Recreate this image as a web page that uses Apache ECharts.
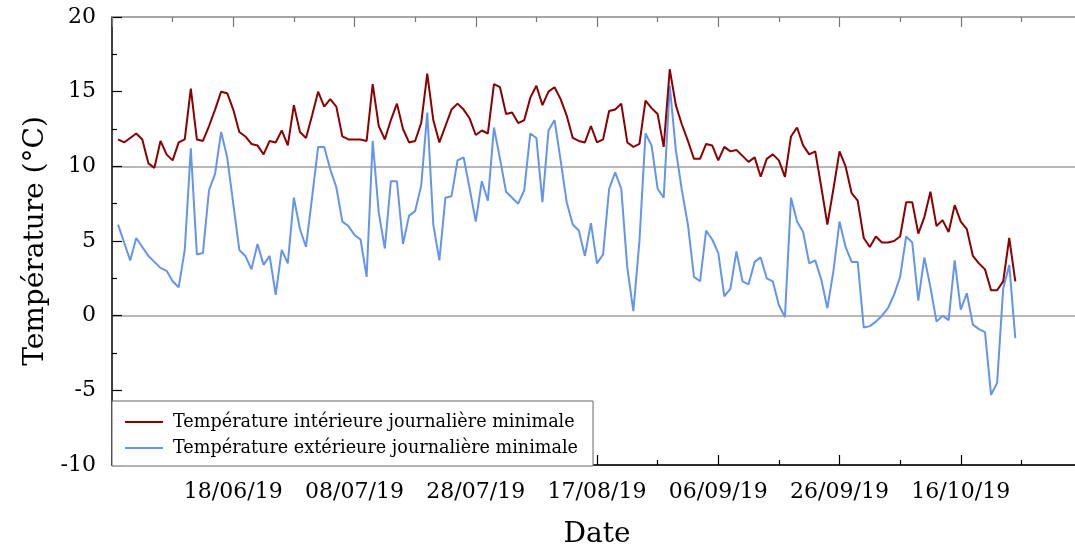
<!DOCTYPE html>
<html><head><meta charset="utf-8">
<script src="https://cdn.jsdelivr.net/npm/echarts@6/dist/echarts.min.js"></script>
<style>html,body{margin:0;padding:0;background:#fff}#c{width:1075px;height:548px}</style>
</head><body><div id="c"></div>
<script>
// first measured day and the date used as origin for the axis ticks
const startDate = '2019-05-30';
const tickOrigin = '2019-06-18';
const seriesNames = ['Température intérieure journalière minimale', 'Température extérieure journalière minimale'];
const axisNames = ['Date', 'Température (°C)'];

const interieur = [
  11.8, 11.6, 11.9, 12.2, 11.8, 10.2, 9.9, 11.7, 10.8, 10.4,
  11.6, 11.8, 15.2, 11.8, 11.7, 12.7, 13.8, 15.0, 14.9, 13.8,
  12.3, 12.0, 11.5, 11.4, 10.8, 11.7, 11.6, 12.4, 11.4, 14.1,
  12.3, 11.9, 13.4, 15.0, 14.0, 14.5, 14.0, 12.0, 11.8, 11.8,
  11.8, 11.7, 15.5, 12.7, 11.8, 13.1, 14.2, 12.5, 11.6, 11.7,
  12.9, 16.2, 13.1, 11.6, 12.7, 13.8, 14.2, 13.8, 13.2, 12.1,
  12.4, 12.2, 15.5, 15.3, 13.5, 13.6, 12.9, 13.1, 14.6, 15.4,
  14.1, 15.0, 15.3, 14.5, 13.4, 11.9, 11.7, 11.6, 12.7, 11.6,
  11.8, 13.7, 13.8, 14.2, 11.6, 11.3, 11.5, 14.4, 13.9, 13.5,
  11.3, 16.5, 14.1, 12.8, 11.7, 10.5, 10.5, 11.5, 11.4, 10.4,
  11.3, 11.0, 11.1, 10.7, 10.3, 10.6, 9.3, 10.5, 10.8, 10.4,
  9.3, 12.0, 12.6, 11.4, 10.8, 11.0, 8.6, 6.1, 8.5, 11.0,
  10.0, 8.2, 7.7, 5.2, 4.6, 5.3, 4.9, 4.9, 5.0, 5.3,
  7.6, 7.6, 5.5, 6.6, 8.3, 6.0, 6.4, 5.6, 7.4, 6.3,
  5.8, 4.0, 3.5, 3.1, 1.7, 1.7, 2.3, 5.2, 2.3
];
const exterieur = [
  6.1, 4.9, 3.7, 5.2, 4.6, 4.0, 3.6, 3.2, 3.0, 2.3,
  1.9, 4.4, 11.2, 4.1, 4.2, 8.4, 9.5, 12.3, 10.6, 7.5,
  4.4, 4.0, 3.1, 4.8, 3.4, 4.0, 1.4, 4.4, 3.5, 7.9,
  5.8, 4.6, 7.9, 11.3, 11.3, 9.8, 8.6, 6.3, 6.0, 5.4,
  5.1, 2.6, 11.7, 6.9, 4.5, 9.0, 9.0, 4.8, 6.7, 7.0,
  8.7, 13.6, 6.1, 3.7, 7.9, 8.0, 10.4, 10.6, 8.5, 6.3,
  9.0, 7.7, 12.6, 10.5, 8.3, 7.9, 7.5, 8.4, 12.2, 11.9,
  7.6, 12.4, 13.1, 10.4, 7.6, 6.1, 5.7, 4.0, 6.2, 3.5,
  4.1, 8.5, 9.6, 8.5, 3.2, 0.3, 5.0, 12.2, 11.4, 8.5,
  7.9, 15.4, 11.1, 8.4, 6.1, 2.6, 2.3, 5.7, 5.1, 4.2,
  1.3, 1.8, 4.3, 2.3, 2.1, 3.6, 3.9, 2.5, 2.3, 0.7,
  -0.1, 7.9, 6.3, 5.6, 3.5, 3.7, 2.4, 0.5, 3.0, 6.3,
  4.6, 3.6, 3.6, -0.8, -0.7, -0.4, 0.0, 0.5, 1.4, 2.6,
  5.3, 4.9, 1.0, 3.9, 1.9, -0.4, 0.0, -0.3, 3.7, 0.4,
  1.5, -0.6, -0.9, -1.1, -5.3, -4.5, 1.8, 3.4, -1.5
];

const DAY = 86400000;
const t0 = Date.parse(tickOrigin + 'T00:00:00Z');
const s0 = Date.parse(startDate + 'T00:00:00Z');
const off0 = Math.round((s0 - t0) / DAY);
const toPoints = arr => arr.map((v, i) => [off0 + i, v]);
const pad = n => (n < 10 ? '0' : '') + n;
function fmtDate(d) {
  const dt = new Date(t0 + d * DAY);
  return pad(dt.getUTCDate()) + '/' + pad(dt.getUTCMonth() + 1) + '/' + String(dt.getUTCFullYear()).slice(2);
}

const FONT = 'DejaVu Serif';
const RED = '#8b0000', BLUE = '#6495ed', GRID = '#a0a0a0';

const chart = echarts.init(document.getElementById('c'), null, { renderer: 'canvas' });
chart.setOption({
  animation: false,
  backgroundColor: '#fff',
  grid: { left: 112, width: 970, top: 17, height: 448, containLabel: false, outerBoundsMode: 'none' },
  legend: {
    orient: 'vertical', left: 112, top: 401,
    itemWidth: 38, itemHeight: 14, itemGap: 8,
    padding: [12, 15, 9, 12],
    borderColor: '#666', borderWidth: 1, backgroundColor: '#fff',
    itemStyle: { opacity: 0, borderWidth: 0 },
    lineStyle: { width: 2 },
    textStyle: { fontFamily: FONT, fontSize: 17.6, color: '#000', padding: [0, 0, 0, 5] },
    data: seriesNames
  },
  xAxis: [{
    type: 'value', position: 'bottom', min: -20, max: 140, interval: 20,
    name: axisNames[0], nameLocation: 'middle', nameGap: 56,
    nameTextStyle: { fontFamily: FONT, fontSize: 28, color: '#000' },
    axisLine: { show: true, onZero: false, lineStyle: { color: '#000', width: 1.5 } },
    axisTick: { show: true, inside: true, length: 10, lineStyle: { color: '#000', width: 1.2 } },
    minorTick: { show: true, splitNumber: 2, length: 5, lineStyle: { color: '#000', width: 1.2 } },
    splitLine: { show: false },
    axisLabel: {
      fontFamily: FONT, fontSize: 22, color: '#000', margin: 16,
      showMinLabel: false, showMaxLabel: false,
      formatter: v => (v < 0 || v > 130) ? '' : fmtDate(v)
    }
  }, {
    type: 'value', position: 'top', min: -20, max: 140, interval: 20,
    axisLine: { show: true, onZero: false, lineStyle: { color: GRID, width: 1.5 } },
    axisTick: { show: true, inside: true, length: 10, lineStyle: { color: '#777', width: 1.2 } },
    minorTick: { show: true, splitNumber: 2, length: 5, lineStyle: { color: '#777', width: 1.2 } },
    splitLine: { show: false },
    axisLabel: { show: false }
  }],
  yAxis: [{
    type: 'value', position: 'left', min: -10, max: 20, interval: 5,
    name: axisNames[1], nameLocation: 'middle', nameGap: 60,
    nameTextStyle: { fontFamily: FONT, fontSize: 28, color: '#000' },
    axisLine: { show: true, onZero: false, lineStyle: { color: '#000', width: 1.5 } },
    axisTick: { show: true, inside: true, length: 10, lineStyle: { color: '#000', width: 1.2 } },
    minorTick: { show: true, splitNumber: 2, length: 5, lineStyle: { color: '#000', width: 1.2 } },
    splitLine: { show: false },
    axisLabel: { fontFamily: FONT, fontSize: 22, color: '#000', margin: 16 }
  }, {
    type: 'value', position: 'right', min: -10, max: 20, interval: 10,
    axisLine: { show: false }, axisTick: { show: false }, axisLabel: { show: false },
    splitLine: { show: true, lineStyle: { color: GRID, width: 1.5 } }
  }],
  series: [{
    name: seriesNames[0], type: 'line', xAxisIndex: 0, yAxisIndex: 0,
    data: toPoints(interieur), symbol: 'none', color: RED,
    lineStyle: { color: RED, width: 2 }, z: 3
  }, {
    name: seriesNames[1], type: 'line', xAxisIndex: 0, yAxisIndex: 0,
    data: toPoints(exterieur), symbol: 'none', color: BLUE,
    lineStyle: { color: BLUE, width: 2 }, z: 2
  }]
});
</script>
</body></html>
